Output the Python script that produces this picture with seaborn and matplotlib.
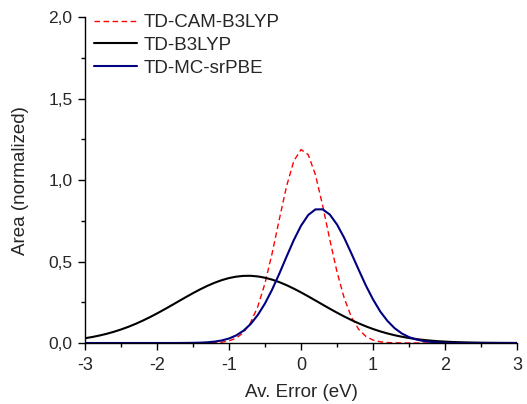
import numpy as np
import pandas as pd
import matplotlib
matplotlib.use('Agg')
import matplotlib.pyplot as plt
import seaborn as sns
from matplotlib.ticker import MultipleLocator, FuncFormatter

sns.set_style("ticks")
plt.rcParams['font.family'] = ['Liberation Sans', 'DejaVu Sans']
plt.rcParams['axes.unicode_minus'] = False

# x grid of the curves (eV)
av_error = [round(-3.0 + 0.1 * i, 1) for i in range(61)]

cam_b3lyp = [0, 0, 0, 0, 0, 0, 0, 0, 0, 0,
             0, 0, 0, 0, 0, 0.0001, 0.0004, 0.001, 0.002, 0.005,
             0.013, 0.030, 0.064, 0.125, 0.224, 0.367, 0.553, 0.762, 0.964, 1.118,
             1.188, 1.157, 1.034, 0.846, 0.635, 0.437, 0.276, 0.159, 0.0845, 0.041,
             0.018, 0.0075, 0.003, 0.001, 0.0004, 0.0001, 0, 0, 0, 0,
             0, 0, 0, 0, 0, 0, 0, 0, 0, 0,
             0]

b3lyp = [0.0293, 0.0368, 0.0458, 0.0564, 0.0688, 0.0830, 0.0990, 0.1170, 0.1369, 0.1584,
         0.1814, 0.2057, 0.2307, 0.2562, 0.2815, 0.3062, 0.3296, 0.3511, 0.3701, 0.3862,
         0.3988, 0.4075, 0.4122, 0.4127, 0.4088, 0.4009, 0.3890, 0.3736, 0.3551, 0.3340,
         0.3110, 0.2865, 0.2613, 0.2358, 0.2106, 0.1862, 0.1629, 0.1410, 0.1209, 0.1025,
         0.0860, 0.0714, 0.0587, 0.0478, 0.0385, 0.0307, 0.0242, 0.0189, 0.0146, 0.0112,
         0.0085, 0.0063, 0.0047, 0.0034, 0.0025, 0.0018, 0.0013, 0.0009, 0.0006, 0.0004,
         0.0003]

mc_srpbe = [0, 0, 0, 0, 0, 0, 0, 0, 0, 0,
            0, 0, 0, 0.0001, 0.0005, 0.001, 0.0022, 0.0044, 0.0085, 0.0157,
            0.0276, 0.0465, 0.075, 0.116, 0.172, 0.243, 0.329, 0.427, 0.531, 0.632,
            0.720, 0.786, 0.8205, 0.821, 0.789, 0.728, 0.646, 0.550, 0.451, 0.354,
            0.268, 0.194, 0.136, 0.091, 0.0586, 0.0362, 0.0216, 0.0123, 0.0068, 0.0036,
            0.0018, 0.0009, 0.0004, 0.0002, 0.0001, 0, 0, 0, 0, 0,
            0]

df = pd.DataFrame({'x': av_error, 'cam': cam_b3lyp, 'b3': b3lyp, 'mc': mc_srpbe})

fig = plt.figure(figsize=(5.27, 4.04), dpi=100)
ax = fig.add_axes([0.1613, 0.151, 0.8197, 0.806])

sns.lineplot(data=df, x='x', y='cam', ax=ax, color='#FF0000', lw=1.0,
             linestyle=(0, (4, 2.5)), label='TD-CAM-B3LYP')
sns.lineplot(data=df, x='x', y='b3', ax=ax, color='black', lw=1.5, label='TD-B3LYP')
sns.lineplot(data=df, x='x', y='mc', ax=ax, color='#000080', lw=1.5, label='TD-MC-srPBE')

ax.set_xlim(-3, 3)
ax.set_ylim(0, 2.0)
ax.xaxis.set_major_locator(MultipleLocator(1))
ax.xaxis.set_minor_locator(MultipleLocator(0.5))
ax.yaxis.set_major_locator(MultipleLocator(0.5))
ax.yaxis.set_minor_locator(MultipleLocator(0.25))
ax.yaxis.set_major_formatter(FuncFormatter(lambda v, p: f"{v:.1f}".replace('.', ',')))
ax.xaxis.set_major_formatter(FuncFormatter(lambda v, p: f"{v:.0f}"))
ax.tick_params(which='major', length=5, width=1, color='black')
ax.tick_params(which='minor', length=3, width=1, color='black')
ax.tick_params(axis='x', which='major', labelsize=13, pad=5)
ax.tick_params(axis='y', which='major', labelsize=12.5, pad=4)

sns.despine(ax=ax)
for s in ['left', 'bottom']:
    ax.spines[s].set_linewidth(1.0)
    ax.spines[s].set_color('black')

ax.set_xlabel('Av. Error (eV)', fontsize=13.5, labelpad=7)
ax.set_ylabel('Area (normalized)', fontsize=13.5, labelpad=14)

ax.legend(loc='upper left', frameon=False, fontsize=13.5, handlelength=2.3,
          handletextpad=0.35, labelspacing=0.3, borderpad=0.4, borderaxespad=0,
          bbox_to_anchor=(0.003, 1.033))

fig.savefig('out.png', dpi=100)
